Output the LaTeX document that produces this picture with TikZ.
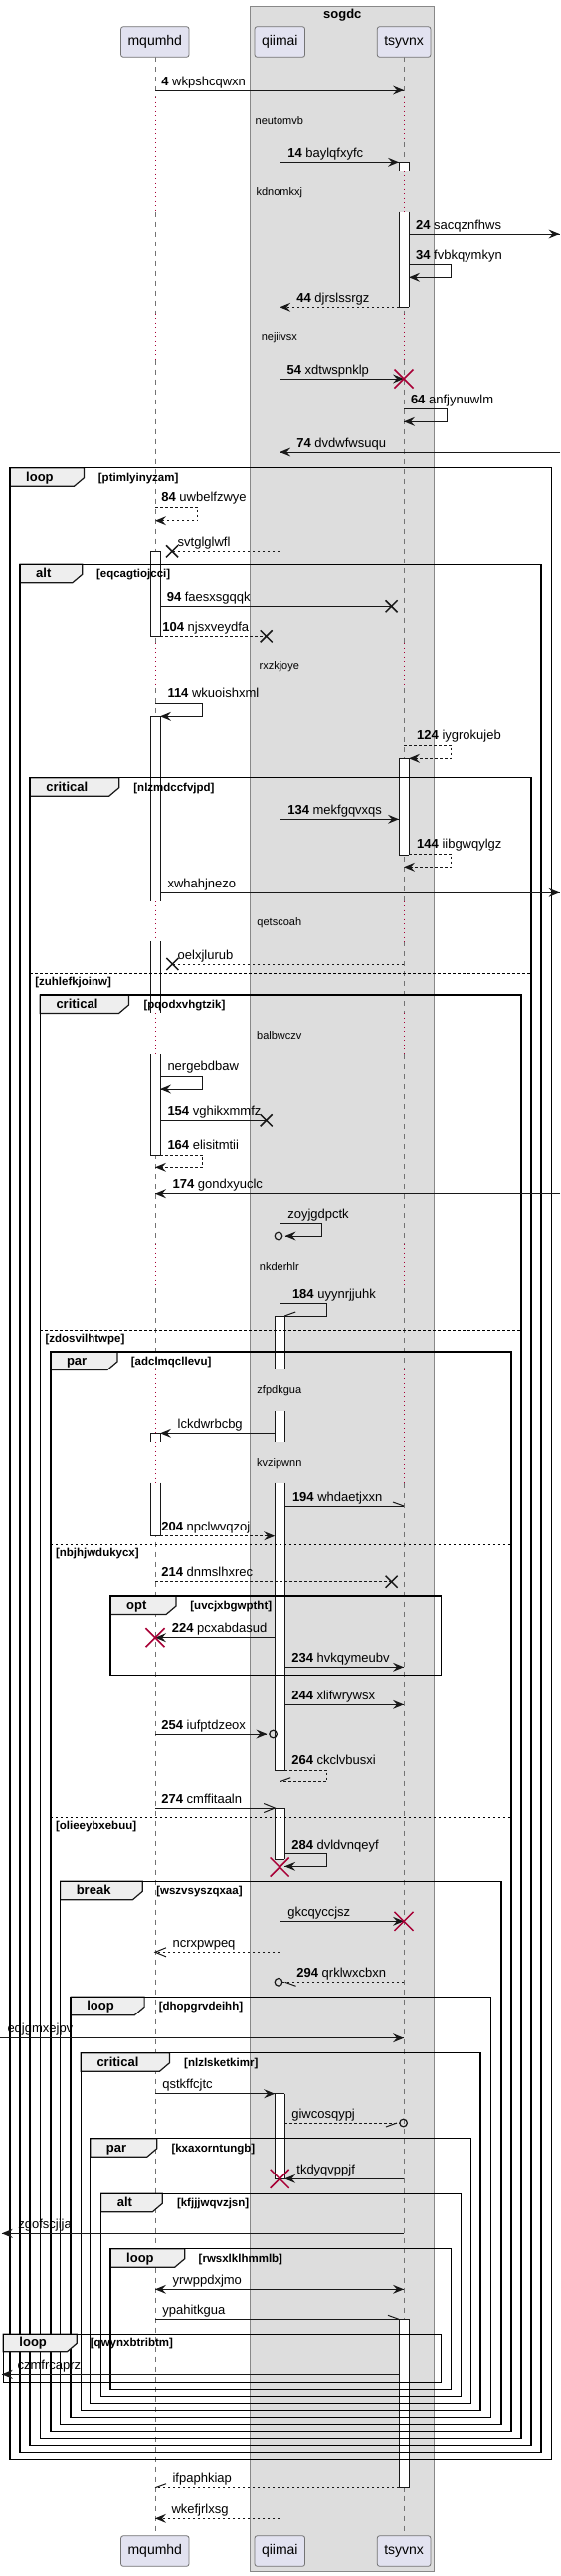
\documentclass[tikz,border=0pt]{standalone}
\usepackage{fontspec}
\setmainfont{Liberation Sans}
\definecolor{ink}{HTML}{181818}
\definecolor{dred}{HTML}{A80036}
\definecolor{boxg}{HTML}{DDDDDD}
\definecolor{boxb}{HTML}{888888}
\definecolor{pfill}{HTML}{E2E2F0}
\definecolor{tabf}{HTML}{EEEEEE}
\tikzset{
  ml/.style={draw=ink,line width=1pt},
  md/.style={draw=ink,line width=1pt,dash pattern=on 2.5pt off 2.5pt},
  lbl/.style={font=\fontsize{13}{15}\selectfont,inner sep=0pt,anchor=base west},
  dl/.style={font=\fontsize{11}{13}\selectfont,inner sep=0pt},
  ttl/.style={font=\bfseries\fontsize{13}{15}\selectfont,inner sep=0pt,anchor=base west},
  grd/.style={font=\bfseries\fontsize{11.5}{13}\selectfont,inner sep=0pt,anchor=base west},
  boxt/.style={font=\bfseries\fontsize{13}{15}\selectfont,inner sep=0pt},
  fr/.style={draw=black,line width=1.5pt},
  tabs/.style={fill=tabf,draw=ink,line width=1.2pt},
  sepl/.style={draw=black,line width=1pt,dash pattern=on 2.5pt off 2.5pt},
  lld/.style={draw=black!55,line width=0.8pt,dash pattern=on 5pt off 5pt},
  llo/.style={draw=dred,line width=0.9pt,dash pattern=on 1pt off 3.5pt},
  actl/.style={draw=ink,line width=1pt},
  part/.style={draw=ink!60,line width=0.8pt,fill=pfill,rounded corners=2.5pt,inner xsep=7pt,inner ysep=0pt,minimum height=30.6pt,font=\fontsize{14}{16}\selectfont}
}
\newcounter{nc}
\newcommand\mfh[3]{\fill[ink] (#1,#2) -- ++({-11*(#3)},-4.5) -- ++({4*(#3)},4.5) -- ++({-4*(#3)},4.5) -- cycle;}
\newcommand\moh[3]{\draw[ml] ({#1-11*(#3)},{#2-4.5}) -- (#1,#2) -- ({#1-11*(#3)},{#2+4.5});}
\newcommand\mhu[3]{\draw[ml] (#1,#2) -- ({#1-11*(#3)},{#2-4});}
\newcommand\mhd[3]{\draw[ml] (#1,#2) -- ({#1-11*(#3)},{#2+4});}
\newcommand\mbx[2]{\draw[ink,line width=1.5pt] ({#1-6},{#2-6}) -- ({#1+6},{#2+6}) ({#1-6},{#2+6}) -- ({#1+6},{#2-6});}
\newcommand\mrx[2]{\draw[dred,line width=1.5pt] ({#1-9.5},{#2-9.5}) -- ({#1+9.5},{#2+9.5}) ({#1-9.5},{#2+9.5}) -- ({#1+9.5},{#2-9.5});}
\newcommand\mci[2]{\draw[ink,line width=1.2pt] (#1,#2) circle[radius=3.8pt];}
\newcommand\mlb[3]{\stepcounter{nc}\node[lbl] (lb\thenc) at (#1,#2) {#3};}
\newcommand\mfrm[8]{%
  \stepcounter{nc}%
  \filldraw[tabs] (#1,#3) -- (#5,#3) -- (#5,{#3+10}) -- ({#5-10},{#3+18.5}) -- (#1,{#3+18.5}) -- cycle;
  \draw[fr] (#1,#3) rectangle (#2,#4);
  \node[ttl] (ft\thenc) at ({#1+16},{#3+13.5}) {#6};
  \node[grd] (fg\thenc) at (#8,{#3+13.3}) {[#7]};}
\newcommand\msep[4]{\stepcounter{nc}\draw[sepl] (#1,#3) -- (#2,#3);
  \node[grd] (sg\thenc) at ({#1+5},{#3+12.5}) {[#4]};}
\newcommand\maseg[3]{\fill[white] ({#1-5},#2) rectangle ({#1+5},#3);
  \draw[actl] ({#1-5},#2) -- ({#1-5},#3) ({#1+5},#2) -- ({#1+5},#3);}
\newcommand\mahl[2]{\draw[actl] ({#1-5},#2) -- ({#1+5},#2);}
\begin{document}
\begin{tikzpicture}[x=1pt,y=-1pt]
\useasboundingbox (0,0) rectangle (563,2592);
\fill[white] (0,0) rectangle (563,2592);
% group box
\filldraw[fill=boxg,draw=boxb,line width=1pt] (251.8,6) rectangle (436.8,2587.3);
\node[boxt] (sog) at (344.3,15) {sogdc};
% lifelines
\foreach \a/\b in {57.3/98,212.7/315.7,361.7/647,692/906.7,947.3/1019.3,1061/1251.7,1296/1378.3,1442.3/1450.7,1491.7/2551.7}
  \draw[lld] (156,\a) -- (156,\b);
\foreach \a/\b in {98/212.7,315.7/361.7,647/692,906.7/947.3,1019.3/1061,1251.7/1296,1378.3/1442.3,1450.7/1491.7}
  \draw[llo] (156,\a) -- (156,\b);
\foreach \a/\b in {57.3/98,143/171.7,212.7/315.7,361.7/647,692/906.7,947.3/1019.3,1061/1251.7,1296/1378.3,1420/1450.7,1491.7/2551.7}
  \draw[lld] (281.2,\a) -- (281.2,\b);
\foreach \a/\b in {98/143,171.7/212.7,315.7/361.7,647/692,906.7/947.3,1019.3/1061,1251.7/1296,1378.3/1420,1450.7/1491.7}
  \draw[llo] (281.2,\a) -- (281.2,\b);
\foreach \a/\b in {57.3/98,143/171.7,212.7/315.7,361.7/647,692/906.7,947.3/1019.3,1061/1251.7,1296/1378.3,1491.7/2551.7}
  \draw[lld] (406,\a) -- (406,\b);
\foreach \a/\b in {98/143,171.7/212.7,315.7/361.7,647/692,906.7/947.3,1019.3/1061,1251.7/1296,1378.3/1491.7}
  \draw[llo] (406,\a) -- (406,\b);
% activations
\maseg{406}{163.3}{171.7}\mahl{406}{163.3}
\maseg{406}{212.7}{309.3}\mahl{406}{309.3}
\maseg{156}{554.3}{640.3}\mahl{156}{554.3}\mahl{156}{640.3}
\maseg{156}{720.3}{906.7}\mahl{156}{720.3}
\maseg{156}{947.3}{1019.3}
\maseg{156}{1061}{1162.3}\mahl{156}{1162.3}
\maseg{406}{763.3}{860}\mahl{406}{763.3}\mahl{406}{860}
\maseg{281.2}{1324}{1378.3}\mahl{281.2}{1324}
\maseg{281.2}{1420}{1450.7}
\maseg{281.2}{1491.7}{1781}\mahl{281.2}{1781}
\maseg{156}{1442.3}{1450.7}\mahl{156}{1442.3}
\maseg{156}{1491.7}{1545.7}\mahl{156}{1545.7}
\maseg{281.2}{1819}{1871}\mahl{281.2}{1819}\mahl{281.2}{1871}
\maseg{281.2}{2106.7}{2192}\mahl{281.2}{2106.7}\mahl{281.2}{2192}
\maseg{406}{2333.3}{2502.7}\mahl{406}{2333.3}\mahl{406}{2502.7}
% frames
\mfrm{10}{554.3}{470.7}{2474.3}{84.5}{loop}{ptimlyinyzam}{98.7}
\mfrm{20}{544.1}{568.3}{2467.7}{82.7}{alt}{eqcagtiojcci}{96.9}
\mfrm{30.1}{534}{782.7}{2460.7}{119.7}{critical}{nlzmdccfvjpd}{134.2}
\msep{30.1}{534}{979}{zuhlefkjoinw}
\mfrm{40.3}{524.2}{1001}{2453.3}{129.5}{critical}{pqodxvhgtzik}{144.4}
\msep{40.3}{524.2}{1338.3}{zdosvilhtwpe}
\mfrm{50.8}{514}{1360}{2446.7}{117.9}{par}{adclmqcllevu}{131.7}
\msep{50.8}{514}{1554.3}{nbjhjwdukycx}
\msep{50.8}{514}{1828.3}{olieeybxebuu}
\mfrm{111}{443.3}{1606}{1685.7}{177}{opt}{uvcjxbgwptht}{191.2}
\mfrm{60.6}{504.2}{1893.3}{2439.3}{143.3}{break}{wszvsyszqxaa}{157.1}
\mfrm{71.1}{493.4}{2009.3}{2432.7}{145.1}{loop}{dhopgrvdeihh}{159.6}
\mfrm{81.3}{483.2}{2065.7}{2425.7}{170.5}{critical}{nlzlsketkimr}{185}
\mfrm{90.7}{473.4}{2151.7}{2418.3}{157.8}{par}{kxaxorntungb}{172.3}
\mfrm{101.6}{463.6}{2207.3}{2411.7}{163.2}{alt}{kfjjjwqvzjsn}{177.8}
\mfrm{111}{453.5}{2262.7}{2404.3}{185.7}{loop}{rwsxlklhmmlb}{199.5}
\mfrm{3.3}{443.3}{2348.3}{2397.3}{77.3}{loop}{qwynxbtribtm}{90.7}
% delays
\node[dl] (d1) at (280.8,121.7) {neutomvb};
\node[dl] (d2) at (280.8,193.3) {kdnomkxj};
\node[dl] (d3) at (280.8,340) {nejiivsx};
\node[dl] (d4) at (280.8,670.7) {rxzkjoye};
\node[dl] (d5) at (280.8,929) {qetscoah};
\node[dl] (d6) at (280.8,1041.7) {balbwczv};
\node[dl] (d7) at (280.8,1274.3) {nkderhlr};
\node[dl] (d8) at (280.8,1400) {zfpdkgua};
\node[dl] (d9) at (280.8,1472.7) {kvzipwnn};
% messages
\draw[ml] (156,91) -- (406,91); \mfh{406}{91}{1} \mlb{162.2}{86}{\textbf{4} wkpshcqwxn}
\draw[ml] (281.2,163.3) -- (401,163.3); \mfh{401}{163.3}{1} \mlb{289.1}{158.3}{\textbf{14} baylqfxyfc}
\draw[ml] (411,235) -- (562.5,235); \mfh{562.5}{235}{1} \mlb{417.9}{230}{\textbf{24} sacqznfhws}
\draw[ml] (411,266.7) -- (453.8,266.7) -- (453.8,279.3) -- (411,279.3); \mfh{411}{279.3}{-1} \mlb{417.9}{261.2}{\textbf{34} fvbkqymkyn}
\draw[md] (401,309.3) -- (281.2,309.3); \mfh{281.2}{309.3}{-1} \mlb{298.2}{304.3}{\textbf{44} djrslssrgz}
\draw[ml] (281.2,381) -- (406,381); \mfh{406}{381}{1} \mrx{406}{381} \mlb{288.4}{376}{\textbf{54} xdtwspnklp}
\draw[ml] (406,411.7) -- (449.1,411.7) -- (449.1,424.3) -- (406,424.3); \mfh{406}{424.3}{-1} \mlb{412.8}{406.2}{\textbf{64} anfjynuwlm}
\draw[ml] (563,455) -- (281.2,455); \mfh{281.2}{455}{-1} \mlb{298.2}{450}{\textbf{74} dvdwfwsuqu}
\draw[md] (156,510.3) -- (198.8,510.3) -- (198.8,523.7) -- (156,523.7); \mfh{156}{523.7}{-1} \mlb{162.2}{504.8}{\textbf{84} uwbelfzwye}
\draw[md] (281.2,554.3) -- (173,554.3); \mbx{173}{554.3} \mlb{178.5}{549.3}{svtglglwfl}
\draw[ml] (161,610.3) -- (393.6,610.3); \mbx{393.6}{610.3} \mlb{167.6}{605.3}{\textbf{94} faesxsgqqk}
\draw[md] (161,640.3) -- (267.7,640.3); \mbx{267.7}{640.3} \mlb{163.2}{635.3}{\textbf{104} njsxveydfa}
\draw[ml] (156,707.3) -- (203.9,707.3) -- (203.9,720.3) -- (161,720.3); \mfh{161}{720.3}{-1} \mlb{168.3}{701.8}{\textbf{114} wkuoishxml}
\draw[md] (406,750.3) -- (453.8,750.3) -- (453.8,763.3) -- (411,763.3); \mfh{411}{763.3}{-1} \mlb{419}{744.8}{\textbf{124} iygrokujeb}
\draw[ml] (281.2,824.3) -- (401,824.3); \mfh{401}{824.3}{1} \mlb{289.1}{819.3}{\textbf{134} mekfgqvxqs}
\draw[md] (411,859.3) -- (453.8,859.3) -- (453.8,872.3) -- (406,872.3); \mfh{406}{872.3}{-1} \mlb{419}{853.8}{\textbf{144} iibgwqylgz}
\draw[ml] (161,898.3) -- (562.5,898.3); \mfh{562.5}{898.3}{1} \mlb{168.3}{893.3}{xwhahjnezo}
\draw[md] (406,970) -- (173.4,970); \mbx{173.4}{970} \mlb{178.5}{965}{oelxjlurub}
\draw[ml] (161,1083.3) -- (203.9,1083.3) -- (203.9,1096) -- (161,1096); \mfh{161}{1096}{-1} \mlb{168.3}{1077.8}{nergebdbaw}
\draw[ml] (161,1127.3) -- (267.7,1127.3); \mbx{267.7}{1127.3} \mlb{168.3}{1122.3}{\textbf{154} vghikxmmfz}
\draw[md] (161,1162.3) -- (203.9,1162.3) -- (203.9,1174.3) -- (156,1174.3); \mfh{156}{1174.3}{-1} \mlb{168.3}{1156.8}{\textbf{164} elisitmtii}
\draw[ml] (563,1200.7) -- (156,1200.7); \mfh{156}{1200.7}{-1} \mlb{173.4}{1195.7}{\textbf{174} gondxyuclc}
\draw[ml] (281.2,1231.7) -- (323.6,1231.7) -- (323.6,1244) -- (286.6,1244); \mfh{286.6}{1244}{-1} \mci{280}{1244} \mlb{289.1}{1226.2}{zoyjgdpctk}
\draw[ml] (281.2,1311.7) -- (328.7,1311.7) -- (328.7,1324) -- (286.2,1324); \mhu{286.2}{1324}{-1} \mlb{293.8}{1306.2}{\textbf{184} uyynrjjuhk}
\draw[ml] (276.2,1442.3) -- (161,1442.3); \mfh{161}{1442.3}{-1} \mlb{178.5}{1437.3}{lckdwrbcbg}
\draw[ml] (286.2,1515) -- (406,1515); \mhu{406}{1515}{1} \mlb{293.8}{1510}{\textbf{194} whdaetjxxn}
\draw[md] (161,1545.7) -- (276.2,1545.7); \mfh{276.2}{1545.7}{1} \mlb{162.2}{1540.7}{\textbf{204} npclwvqzoj}
\draw[md] (156,1591.7) -- (393.6,1591.7); \mbx{393.6}{1591.7} \mlb{162.2}{1586.7}{\textbf{214} dnmslhxrec}
\draw[ml] (276.2,1647.7) -- (156,1647.7); \mfh{156}{1647.7}{-1} \mrx{156}{1647.7} \mlb{172.7}{1642.7}{\textbf{224} pcxabdasud}
\draw[ml] (286.2,1677.3) -- (406,1677.3); \mfh{406}{1677.3}{1} \mlb{293.1}{1672.3}{\textbf{234} hvkqymeubv}
\draw[ml] (286.2,1715.3) -- (406,1715.3); \mfh{406}{1715.3}{1} \mlb{293.1}{1710.3}{\textbf{244} xlifwrywsx}
\draw[ml] (156,1745) -- (268.4,1745); \mfh{268.4}{1745}{1} \mci{274.6}{1745} \mlb{162.2}{1740}{\textbf{254} iufptdzeox}
\draw[md] (286.2,1781) -- (328.7,1781) -- (328.7,1792.7) -- (281.2,1792.7); \mhu{281.2}{1792.7}{-1} \mlb{293.1}{1775.5}{\textbf{264} ckclvbusxi}
\draw[ml] (156,1819) -- (276.2,1819); \moh{276.2}{1819}{1} \mlb{162.2}{1814}{\textbf{274} cmffitaaln}
\draw[ml] (286.2,1865.7) -- (328.7,1865.7) -- (328.7,1878.3) -- (286.2,1878.3); \mfh{286.2}{1878.3}{-1} \mrx{281.2}{1879} \mlb{293.1}{1860.2}{\textbf{284} dvldvnqeyf}
\draw[ml] (281.2,1933.3) -- (406,1933.3); \mfh{406}{1933.3}{1} \mrx{406}{1933.3} \mlb{289.1}{1928.3}{gkcqyccjsz}
\draw[md] (281.2,1964.3) -- (156,1964.3); \moh{156}{1964.3}{-1} \mlb{173.4}{1959.3}{ncrxpwpeq}
\draw[md] (406,1994.3) -- (283.8,1994.3); \mhd{286.6}{1994.3}{-1} \mci{280}{1994.3} \mlb{298.2}{1989.3}{\textbf{294} qrklwxcbxn}
\draw[ml] (0,2050.7) -- (406,2050.7); \mfh{406}{2050.7}{1} \mlb{7.3}{2045.7}{eqjgmxejpv}
\draw[ml] (156,2106.7) -- (276.2,2106.7); \mfh{276.2}{2106.7}{1} \mlb{163.2}{2101.7}{qstkffcjtc}
\draw[md] (286.2,2136) -- (401.8,2136); \mhd{399}{2136}{1} \mci{405.6}{2136} \mlb{293.1}{2131}{giwcosqypj}
\draw[ml] (406,2192.3) -- (286.2,2192.3); \mfh{286.2}{2192.3}{-1} \mrx{281.2}{2192.3} \mlb{298.2}{2187.3}{tkdyqvppjf}
\draw[ml] (406,2247.3) -- (1.8,2247.3); \mfh{1.8}{2247.3}{-1} \mlb{18.1}{2242.3}{zgofscjija}
\draw[ml] (156,2303.3) -- (406,2303.3); \mfh{156}{2303.3}{-1} \mfh{406}{2303.3}{1} \mlb{173.4}{2298.3}{yrwppdxjmo}
\draw[ml] (156,2333.3) -- (401,2333.3); \mhu{401}{2333.3}{1} \mlb{163.2}{2328.3}{ypahitkgua}
\draw[ml] (401,2389.3) -- (1.8,2389.3); \mfh{1.8}{2389.3}{-1} \mlb{17.4}{2384.3}{czmfrcaprz}
\draw[md] (401,2502.7) -- (156,2502.7); \mhu{156}{2502.7}{-1} \mlb{173.4}{2497.7}{ifpaphkiap}
\draw[md] (281.2,2534.3) -- (156,2534.3); \mfh{156}{2534.3}{-1} \mlb{172.3}{2529.3}{wkefjrlxsg}
% participants
\node[part] (pm) at (155.8,42) {mqumhd};
\node[part] (pq) at (281.3,42) {qiimai};
\node[part] (pt) at (406.1,42) {tsyvnx};
\node[part] (pmb) at (155.8,2567) {mqumhd};
\node[part] (pqb) at (281.3,2567) {qiimai};
\node[part] (ptb) at (406.1,2567) {tsyvnx};
\end{tikzpicture}
\end{document}
